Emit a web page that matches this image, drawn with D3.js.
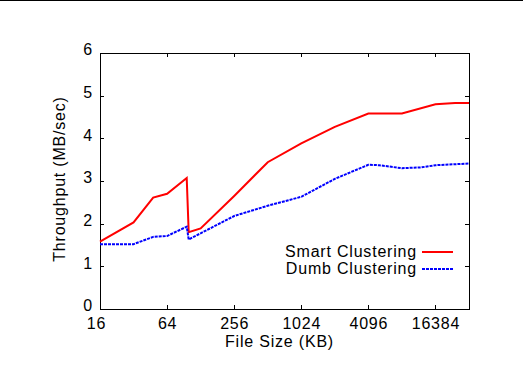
<!DOCTYPE html>
<meta charset="utf-8">
<style>
body { margin: 0; background: #fff; }
svg { display: block; }
text {
  font-family: "Liberation Sans", Arial, sans-serif;
  font-size: 16px;
  letter-spacing: 0.8px;
  fill: #000;
}
.axis path, .axis line {
  fill: none;
  stroke: #000;
  stroke-width: 1;
  shape-rendering: crispEdges;
}
.axis text { font-size: 16px; }
.line { fill: none; stroke-width: 2px; stroke-linejoin: miter; }
</style>
<body>
<div id="plotHere"></div>
<script src="https://cdn.jsdelivr.net/npm/d3@7"></script>
<script>
// ---------------- data (file size in KB, throughput in MB/sec) ----------------
var sizesSmart = [16, 32, 48, 64, 96, 100, 128, 256, 512, 1024, 2048, 4096, 8192, 16384, 24576, 32768];
var smart      = [1.58, 2.03, 2.61, 2.70, 3.07, 1.80, 1.89, 2.65, 3.44, 3.88, 4.27, 4.58, 4.58, 4.80, 4.83, 4.83];

var sizesDumb  = [16, 32, 48, 64, 96, 100, 256, 512, 1024, 2048, 4096, 5120, 8192, 12288, 16384, 32768];
var dumb       = [1.52, 1.52, 1.69, 1.71, 1.93, 1.63, 2.18, 2.42, 2.63, 3.05, 3.38, 3.37, 3.30, 3.32, 3.37, 3.41];

var xTicks = [16, 64, 256, 1024, 4096, 16384];
var yTicks = [0, 1, 2, 3, 4, 5, 6];

var seriesNames = ["Smart Clustering", "Dumb Clustering"];

const xlabel = "File Size (KB)";
const ylabel = "Throughput (MB/sec)";

// ---------------- layout ----------------
var W = 523, H = 392;
var margin = {top: 53, right: 54, bottom: 83, left: 100},
    width = W - margin.left - margin.right,
    height = H - margin.top - margin.bottom;
const ticIn = -4;

var x = d3.scaleLog().base(2).domain([16, 32768]).range([0, width]);
var y = d3.scaleLinear().domain([0, 6]).range([height, 0]);

var svgRoot = d3.select("#plotHere").append("svg")
    .attr("width", W)
    .attr("height", H);

// thin rule across the top of the page
svgRoot.append("line")
    .attr("x1", 0).attr("x2", W)
    .attr("y1", 0.5).attr("y2", 0.5)
    .attr("stroke", "#000");

var svg = svgRoot.append("g")
    .attr("transform", "translate(" + margin.left + "," + margin.top + ")");

// ---------------- axes ----------------
var xAxis = svg.append("g")
    .attr("class", "axis")
    .attr("transform", "translate(0," + height + ")")
    .call(d3.axisBottom(x).tickValues(xTicks).tickFormat(d3.format("d"))
        .tickSizeInner(ticIn).tickSizeOuter(0).tickPadding(9));
// first label sits a bit left of its tick in the original
xAxis.selectAll(".tick text").filter(function(d) { return d === 16; })
    .attr("dx", "-4");

svg.append("g")
    .attr("class", "axis")
    .call(d3.axisTop(x).tickValues(xTicks).tickFormat("")
        .tickSizeInner(ticIn).tickSizeOuter(0));

var yAxis = svg.append("g")
    .attr("class", "axis")
    .call(d3.axisLeft(y).tickValues(yTicks).tickFormat(d3.format("d"))
        .tickSizeInner(ticIn).tickSizeOuter(0).tickPadding(7));
// digits sit slightly above their ticks
yAxis.selectAll(".tick text").attr("dy", "0.12em");

svg.append("g")
    .attr("class", "axis")
    .attr("transform", "translate(" + width + ",0)")
    .call(d3.axisRight(y).tickValues(yTicks).tickFormat("")
        .tickSizeInner(ticIn).tickSizeOuter(0));

svg.selectAll(".axis .domain").remove();
// plot frame
svg.append("rect")
    .attr("x", 0).attr("y", 0)
    .attr("width", width).attr("height", height)
    .attr("fill", "none")
    .attr("stroke", "#000")
    .attr("shape-rendering", "crispEdges");

svg.selectAll(".axis text").style("font-size", "16px").attr("fill", "#000");

svg.append("text")
    .attr("x", width / 2 - 5)
    .attr("y", height + 38)
    .style("text-anchor", "middle")
    .text(xlabel);

svg.append("text")
    .attr("transform", "rotate(-90)")
    .attr("x", -(height / 2) + 2)
    .attr("y", -35)
    .style("text-anchor", "middle")
    .text(ylabel);

// ---------------- lines ----------------
var smartLine = d3.line()
    .x(function(d, i) { return x(sizesSmart[i]); })
    .y(function(d) { return y(d); });
var dumbLine = d3.line()
    .x(function(d, i) { return x(sizesDumb[i]); })
    .y(function(d) { return y(d); });

svg.append("path")
    .datum(smart)
    .attr("class", "line")
    .attr("stroke", "#ff0000")
    .attr("d", smartLine);

svg.append("path")
    .datum(dumb)
    .attr("class", "line")
    .attr("stroke", "#0000ff")
    .attr("stroke-dasharray", "3,1")
    .attr("d", dumbLine);

// ---------------- legend ----------------
var legendColors = ["#ff0000", "#0000ff"];
var legendDash = [null, "3,1"];
var legend = svg.selectAll(".legend")
    .data(seriesNames)
    .enter().append("g")
    .attr("class", "legend")
    .attr("transform", function(d, i) { return "translate(0," + (199 + i * 17) + ")"; });

legend.append("text")
    .attr("x", 317)
    .attr("y", 5)
    .style("text-anchor", "end")
    .text(function(d) { return d; });

legend.append("line")
    .attr("x1", 322).attr("x2", 353)
    .attr("y1", 0).attr("y2", 0)
    .attr("stroke", function(d, i) { return legendColors[i]; })
    .attr("stroke-width", 2)
    .attr("stroke-dasharray", function(d, i) { return legendDash[i]; });
</script>
</body>
